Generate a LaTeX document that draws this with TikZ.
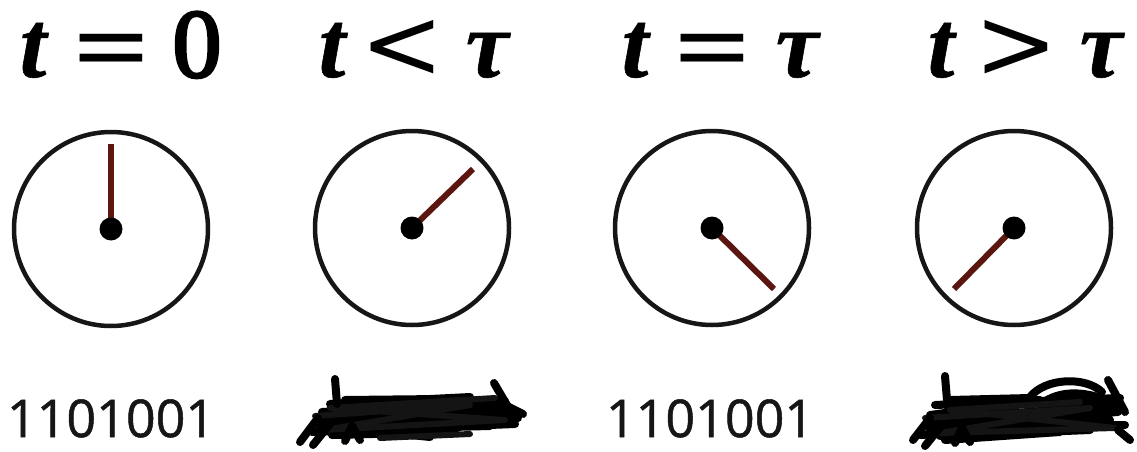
\documentclass[tikz,border=0pt]{standalone}
\usepackage{fontspec}
\setmainfont{Liberation Serif}
\newfontfamily\varfont[FakeBold=0.6]{Liberation Serif Bold Italic}
\newfontfamily\symfont{DejaVu Serif}
\newfontfamily\numfont[FakeBold=3]{Liberation Serif}
\newfontfamily\digitfont[FakeBold=1]{Open Sans}
\definecolor{handred}{RGB}{92,22,16}
\definecolor{ink}{RGB}{22,22,22}
\begin{document}
\begin{tikzpicture}[x=1pt,y=-1pt,
  dial/.style={circle,draw=ink,line width=4.5pt,minimum size=194pt,inner sep=0pt},
  pivot/.style={circle,fill=black,minimum size=23pt,inner sep=0pt},
  hand/.style={draw=handred,line width=6pt},
  glyph/.style={font=\fontsize{96}{96}\selectfont,inner sep=0pt,anchor=base},
  var/.style={glyph,font=\varfont\fontsize{96}{96}\selectfont},
  sym/.style={glyph,font=\symfont\fontsize{100}{100}\selectfont},
  bits/.style={font=\digitfont\fontsize{52}{52}\selectfont,text=ink,inner sep=0pt,anchor=base},
  scrib/.style={draw=black,line width=8pt,line join=round,line cap=round},
  scribg/.style={draw=black!92,line width=6pt,line join=round,line cap=round}]
\useasboundingbox (0,0) rectangle (1137,452);
% titles
\node[var] (t1a) at (33,77) {t};
\node[sym] (t1b) at (111,79) {=};
\node[glyph,font=\numfont\fontsize{98}{98}\selectfont] (t1c) at (197,77) {0};
\node[var] (t2a) at (332,77) {t};
\node[sym] (t2b) at (402,78) {<};
\node[var] (t2c) at (487,77) {τ};
\node[var] (t3a) at (635,77) {t};
\node[sym] (t3b) at (712,79) {=};
\node[var] (t3c) at (797,77) {τ};
\node[var] (t4a) at (941,77) {t};
\node[sym] (t4b) at (1016,78) {>};
\node[var] (t4c) at (1101,77) {τ};
% clocks
\node[dial] (c1) at (111,229) {};
\node[dial] (c2) at (412,228) {};
\node[dial] (c3) at (712,228) {};
\node[dial] (c4) at (1014,228) {};
\coordinate (h1) at (111,144);
\coordinate (h2) at (473,169);
\coordinate (h3) at (774,289);
\coordinate (h4) at (954,289);
\draw[hand] (c1.center) -- (h1);
\draw[hand] (c2.center) -- (h2);
\draw[hand] (c3.center) -- (h3);
\draw[hand] (c4.center) -- (h4);
\node[pivot] (p1) at (c1.center) {};
\node[pivot] (p2) at (c2.center) {};
\node[pivot] (p3) at (c3.center) {};
\node[pivot] (p4) at (c4.center) {};
% bit strings
\node[bits] (b1) at (111,437) {1101001};
\node[bits] (b3) at (710,437) {1101001};
% scribble 1
\draw[scrib] (312,432) -- (515,424) -- (318,420) -- (512,410) -- (322,412) -- (505,401)
  -- (330,404) -- (470,397) -- (320,427) -- (518,418) -- (332,435) -- (455,432)
  -- (340,424) -- (500,414) -- (360,430) -- (430,437) -- (325,418) -- (508,406)
  -- (345,400) -- (440,399) -- (335,430) -- (490,426);
\draw[scribg] (315,416) -- (470,405) -- (325,430) -- (505,420) -- (330,408) -- (495,398);
\draw[scrib] (335,379) -- (337,404);
\draw[scrib] (494,383) -- (511,412);
\draw[scrib] (300,442) -- (318,418);
\draw[scrib] (313,445) -- (330,424);
\draw[scrib] (345,441) -- (352,426) -- (360,440);
\draw[scrib] (505,405) -- (523,414);
\draw[scribg] (380,438) -- (470,434);
% scribble 2
\draw[scrib] (920,435) -- (1125,425) -- (925,425) -- (1118,412) -- (930,415) -- (1040,400)
  -- (935,405) -- (1120,398) -- (930,430) -- (1110,420) -- (945,440) -- (1060,432)
  -- (960,428) -- (1100,418) -- (928,420) -- (1115,405) -- (950,400) -- (1030,398)
  -- (940,436) -- (1090,430);
\draw[scrib] (1030,397) .. controls (1045,378) and (1085,376) .. (1102,392);
\draw[scrib] (1040,405) .. controls (1060,388) and (1090,392) .. (1110,402);
\draw[scribg] (925,418) -- (1090,408) -- (940,433) -- (1115,428) -- (950,410) -- (1080,402);
\draw[scrib] (945,376) -- (947,400);
\draw[scrib] (1108,380) -- (1125,412);
\draw[scrib] (913,440) -- (930,418);
\draw[scrib] (925,446) -- (942,425);
\draw[scrib] (955,443) -- (962,428) -- (970,442);
\draw[scrib] (1118,430) -- (1130,440);
\end{tikzpicture}
\end{document}
